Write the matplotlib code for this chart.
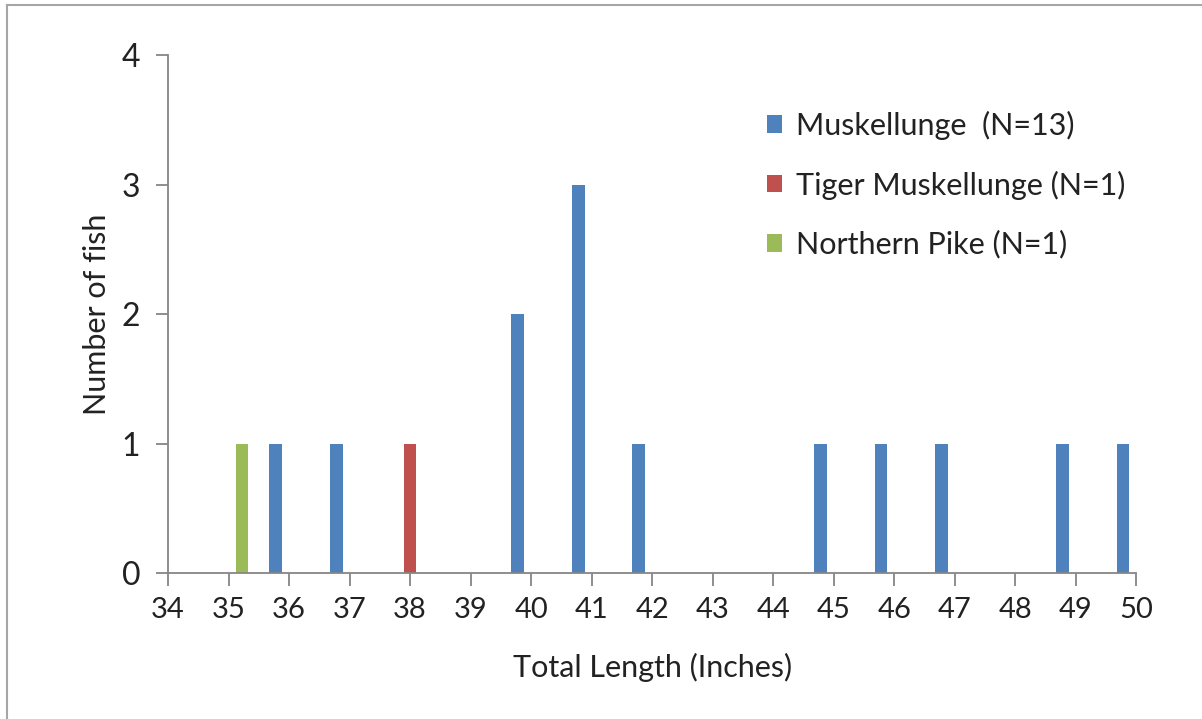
import matplotlib.pyplot as plt
import numpy as np
from matplotlib.lines import Line2D

plt.rcParams['font.family'] = ['Lato', 'DejaVu Sans']

# data
lengths = [34, 35, 36, 37, 38, 39, 40, 41, 42, 43, 44, 45, 46, 47, 48, 49, 50]
muskie = [0, 0, 1, 1, 0, 0, 2, 3, 1, 0, 0, 1, 1, 1, 0, 1, 1]
tiger = [0, 0, 0, 0, 1, 0, 0, 0, 0, 0, 0, 0, 0, 0, 0, 0, 0]
pike = [0, 1, 0, 0, 0, 0, 0, 0, 0, 0, 0, 0, 0, 0, 0, 0, 0]
labels = ['Muskellunge  (N=13)', 'Tiger Muskellunge (N=1)', 'Northern Pike (N=1)']
colors = ['#4F81BD', '#C0504D', '#9BBB59']

fig = plt.figure(figsize=(12.02, 7.19), dpi=100)
ax = fig.add_axes([0.1398, 0.203, 0.8055, 0.7205])

x = np.array(lengths, dtype=float)
w = 0.21
ax.bar(x - 0.22, muskie, w, color=colors[0], label=labels[0])
ax.bar(x, tiger, w, color=colors[1], label=labels[1])
ax.bar(x + 0.22, pike, w, color=colors[2], label=labels[2])

ax.set_xlim(34, 50)
ax.set_ylim(0, 4)
ax.set_xticks(lengths)
ax.set_yticks([0, 1, 2, 3, 4])

gray = '#868686'
txt = '#222222'
for s in ['top', 'right']:
    ax.spines[s].set_visible(False)
for s in ['left', 'bottom']:
    ax.spines[s].set_color(gray)
    ax.spines[s].set_linewidth(1.3)
ax.tick_params(axis='x', direction='out', length=9, width=1.3, color=gray,
               labelsize=21, pad=8, labelcolor=txt)
ax.tick_params(axis='y', direction='out', length=9, width=1.3, color=gray,
               labelsize=23, pad=11, labelcolor=txt)

ax.set_xlabel('Total Length (Inches)', fontsize=22, color=txt, labelpad=22)
ax.set_ylabel('Number of fish', fontsize=22, color=txt, labelpad=8)

leg = ax.legend(loc='upper left', bbox_to_anchor=(0.638, 0.846), bbox_transform=fig.transFigure,
                frameon=False, fontsize=22, handlelength=0.5, handleheight=0.5,
                handletextpad=0.45, labelspacing=1.0, borderaxespad=0, borderpad=0)
for t in leg.get_texts():
    t.set_color(txt)

# chart area border (top and left visible)
fig.add_artist(Line2D([7 / 1202, 7 / 1202], [0, 1 - 5 / 719], transform=fig.transFigure,
                      color='#A6A6A6', lw=1.5))
fig.add_artist(Line2D([7 / 1202, 1], [1 - 5 / 719, 1 - 5 / 719], transform=fig.transFigure,
                      color='#A6A6A6', lw=1.5))

fig.savefig('out.png', dpi=100)
